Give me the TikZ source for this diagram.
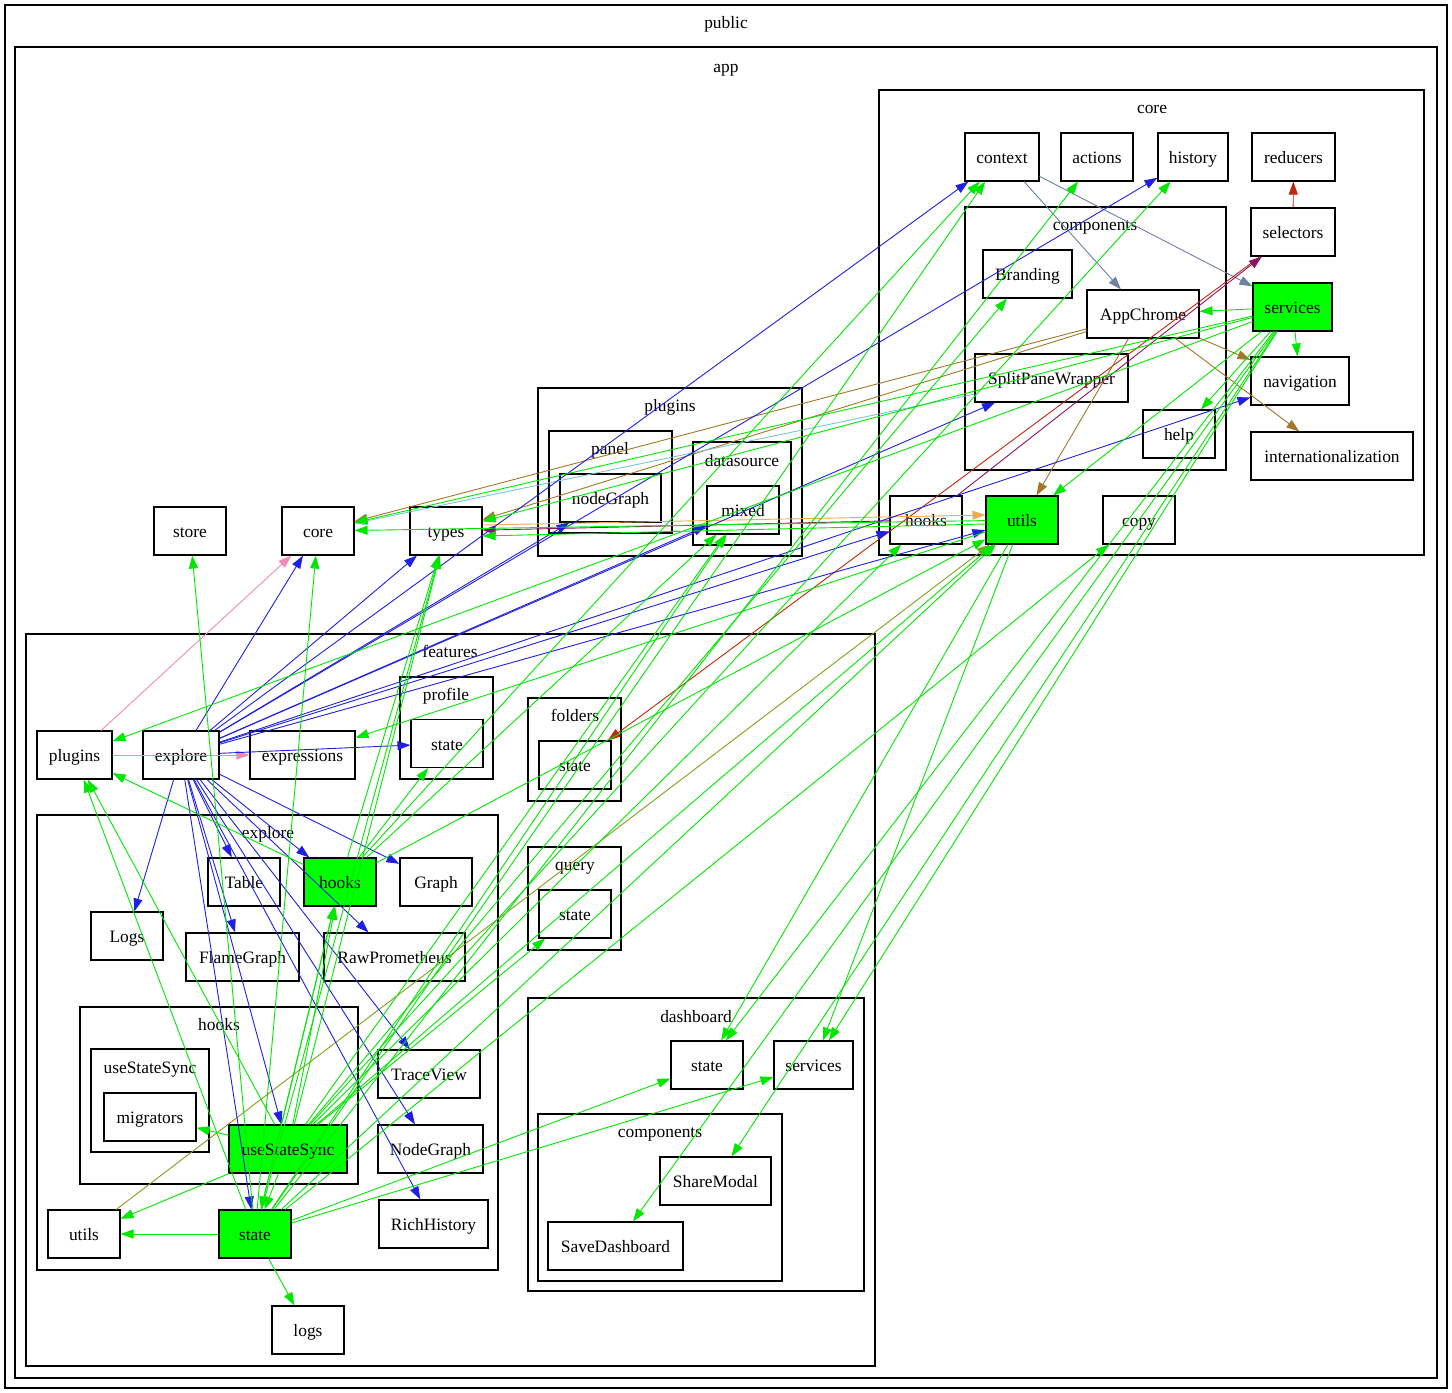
\documentclass[tikz,border=0pt]{standalone}
\usepackage{fontspec}
\setmainfont{Liberation Serif}
\usetikzlibrary{arrows.meta}
\definecolor{eblue}{RGB}{32,32,224}
\definecolor{egreen}{RGB}{0,232,0}
\definecolor{egray}{RGB}{112,128,160}
\definecolor{ebrown}{RGB}{160,120,40}
\definecolor{ered}{RGB}{190,40,10}
\definecolor{epurple}{RGB}{140,20,100}
\definecolor{eorange}{RGB}{245,170,80}
\definecolor{ecyan}{RGB}{120,200,210}
\definecolor{epink}{RGB}{240,140,180}
\definecolor{eolive}{RGB}{130,160,30}
\definecolor{nodegreen}{RGB}{0,255,0}
\begin{document}
\begin{tikzpicture}[x=1pt,y=-1pt,
  txt/.style={font=\fontsize{17.4}{20}\selectfont},
  box/.style={txt,draw,line width=1.1pt,minimum height=48pt,inner sep=0pt,text height=13pt,text depth=0pt},
  gbox/.style={box,fill=nodegreen},
  clus/.style={draw,line width=1.1pt},
  clab/.style={txt,inner sep=0pt,text height=13pt,text depth=0pt},
  edg/.style={-{Triangle[length=13pt,width=9pt]},line width=0.9pt},
  eb/.style={edg,eblue}, eg/.style={edg,egreen}]
\fill[white] (0,0) rectangle (1452,1393);
\useasboundingbox (0,0) rectangle (1452,1393);
% clusters
\draw[clus] (5,5) rectangle (1447,1388);
\node[clab] (lpublic) at (726,22) {public};
\draw[clus] (15,47) rectangle (1437,1378);
\node[clab] (lapp) at (726,66) {app};
\draw[clus] (879,90) rectangle (1424,555);
\node[clab] (lcore) at (1152,107) {core};
\draw[clus] (965,207) rectangle (1226,470);
\node[clab] (lcomp) at (1095,224) {components};
\draw[clus] (538,388) rectangle (802,556);
\node[clab] (lplugins) at (670,405) {plugins};
\draw[clus] (549,431) rectangle (672,533);
\node[clab] (lpanel) at (610,448) {panel};
\draw[clus] (693,442) rectangle (791,545);
\node[clab] (lds) at (742,460) {datasource};
\draw[clus] (26,634) rectangle (875,1366);
\node[clab] (lfeat) at (450,651) {features};
\draw[clus] (400,677) rectangle (493,779);
\node[clab] (lprof) at (446,694) {profile};
\draw[clus] (528,698) rectangle (621,801);
\node[clab] (lfold) at (575,715) {folders};
\draw[clus] (528,847) rectangle (621,950);
\node[clab] (lquery) at (575,864) {query};
\draw[clus] (528,998) rectangle (864,1291);
\node[clab] (ldash) at (696,1016) {dashboard};
\draw[clus] (538,1114) rectangle (782,1281);
\node[clab] (ldcomp) at (660,1131) {components};
\draw[clus] (37,815) rectangle (498,1270);
\node[clab] (lexp) at (268,832) {explore};
\draw[clus] (80,1007) rectangle (358,1184);
\node[clab] (lhooks) at (219,1024) {hooks};
\draw[clus] (91,1049) rectangle (209,1152);
\node[clab] (luss) at (150,1067) {useStateSync};
% nodes
\node[box,minimum width=74] (context) at (1002,157) {context};
\node[box,minimum width=72] (actions) at (1097,157) {actions};
\node[box,minimum width=70] (history) at (1193,157) {history};
\node[box,minimum width=83] (reducers) at (1293.5,157) {reducers};
\node[box,minimum width=84] (selectors) at (1293,232) {selectors};
\node[gbox,minimum width=79] (services) at (1292.5,307) {services};
\node[box,minimum width=98] (navigation) at (1300,381) {navigation};
\node[box,minimum width=162] (intl) at (1332,456) {internationalization};
\node[box,minimum width=89] (branding) at (1027.5,274) {Branding};
\node[box,minimum width=112] (appchrome) at (1143,314) {AppChrome};
\node[box,minimum width=153] (splitpane) at (1051.5,378) {SplitPaneWrapper};
\node[box,minimum width=72] (help) at (1179,434) {help};
\node[box,minimum width=72] (hooksC) at (926,520) {hooks};
\node[gbox,minimum width=72] (utilsC) at (1022,520) {utils};
\node[box,minimum width=72] (copy) at (1139,520) {copy};
\node[box,minimum width=72] (store) at (190,531) {store};
\node[box,minimum width=72] (coreN) at (318,531) {core};
\node[box,minimum width=72] (types) at (446,531) {types};
\node[box,minimum width=101] (nodeGraphP) at (610.5,498) {nodeGraph};
\node[box,minimum width=72] (mixed) at (743,510) {mixed};
\node[box,minimum width=75] (pluginsF) at (74.5,755) {plugins};
\node[box,minimum width=76] (exploreF) at (181,755) {explore};
\node[box,minimum width=105] (expressions) at (302.5,755) {expressions};
\node[box,minimum width=72] (profState) at (447,743.5) {state};
\node[box,minimum width=72] (foldState) at (575,765) {state};
\node[box,minimum width=72] (queryState) at (575,914) {state};
\node[box,minimum width=72] (table) at (244,882) {Table};
\node[gbox,minimum width=72] (hooksE) at (340,882) {hooks};
\node[box,minimum width=72] (graph) at (436,882) {Graph};
\node[box,minimum width=72] (logsE) at (127,936) {Logs};
\node[box,minimum width=113] (flame) at (242.5,957) {FlameGraph};
\node[box,minimum width=141] (rawprom) at (394.5,957) {RawPrometheus};
\node[box,minimum width=92] (migrators) at (150,1117) {migrators};
\node[gbox,minimum width=118] (uss) at (288,1149) {useStateSync};
\node[box,minimum width=102] (traceview) at (429,1074) {TraceView};
\node[box,minimum width=105] (nodegraphE) at (430.5,1149) {NodeGraph};
\node[box,minimum width=109] (richhist) at (433.5,1224) {RichHistory};
\node[box,minimum width=72] (utilsE) at (84,1234) {utils};
\node[gbox,minimum width=72] (stateE) at (255,1234) {state};
\node[box,minimum width=72] (logs) at (308,1330) {logs};
\node[box,minimum width=72] (dashState) at (707,1065) {state};
\node[box,minimum width=79] (dashServices) at (813.5,1065) {services};
\node[box,minimum width=111] (sharemodal) at (715.5,1181) {ShareModal};
\node[box,minimum width=135] (savedash) at (615.5,1246) {SaveDashboard};
% edges: misc colours
\draw[edg,egray] (context) -- (appchrome);
\draw[edg,egray] (context) -- (services);
\draw[edg,ered] (selectors) -- (reducers);
\draw[edg,ered] (selectors) -- (foldState);
\draw[edg,epurple] (hooksC) -- (selectors);
\draw[edg,epurple] (hooksC) -- (types);
\draw[edg,ebrown] (appchrome) -- (navigation);
\draw[edg,ebrown] (appchrome) -- (intl);
\draw[edg,ebrown] (appchrome) -- (utilsC);
\draw[edg,ebrown] (appchrome) -- (coreN);
\draw[edg,ebrown] (appchrome) -- (types);
\draw[edg,ecyan] (splitpane) -- (coreN);
\draw[edg,eorange] ([yshift=6pt]types.east) -- ([yshift=5pt]utilsC.west);
\draw[edg,epink] (pluginsF) -- (coreN);
\draw[edg,epink] (pluginsF) -- (expressions);
\draw[edg,eolive] (utilsE) -- (utilsC);
% edges: explore (blue)
\foreach \t in {context,history,splitpane,navigation,utilsC,hooksC,nodeGraphP,mixed,types,coreN,profState,logsE,table,flame,hooksE,graph,rawprom,traceview,nodegraphE,richhist,uss,stateE}
  \draw[eb] (exploreF) -- (\t);
% edges: services (green)
\foreach \t in {appchrome,navigation,help,utilsC,coreN,types,pluginsF,dashState,dashServices,sharemodal,savedash}
  \draw[eg] (services) -- (\t);
% edges: utils core (green)
\draw[eg] (utilsC) -- (coreN);
\draw[eg] ([yshift=-4pt]utilsC.west) -- ([yshift=-5pt]types.east);
\foreach \t in {expressions,dashState,dashServices}
  \draw[eg] (utilsC) -- (\t);
% edges: useStateSync (green)
\foreach \t in {history,branding,mixed,types,utilsC,queryState,hooksE,stateE,migrators,utilsE,pluginsF,hooksC}
  \draw[eg] (uss) -- (\t);
% edges: explore state (green)
\foreach \t in {context,actions,mixed,types,utilsC,copy,coreN,store,pluginsF,hooksE,utilsE,logs,dashState,dashServices}
  \draw[eg] (stateE) -- (\t);
% edges: explore hooks (green)
\foreach \t in {context,types,mixed,profState,utilsC,pluginsF,stateE}
  \draw[eg] (hooksE) -- (\t);
\end{tikzpicture}
\end{document}
